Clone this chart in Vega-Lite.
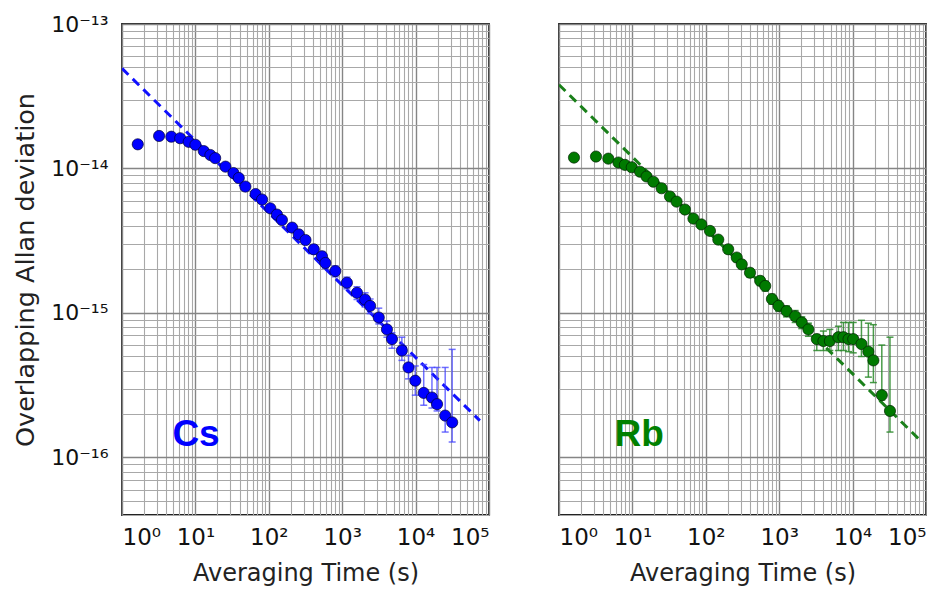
{
  "$schema": "https://vega.github.io/schema/vega-lite/v6.json",
  "background": "white",
  "padding": {"left": 12, "top": 12, "right": 0, "bottom": 0},
  "bounds": "flush",
  "spacing": 70,
  "config": {
    "view": {"stroke": "#222222", "strokeWidth": 1.8},
    "axis": {
      "domain": false,
      "ticks": false,
      "labelFont": "DejaVu Sans",
      "labelFontSize": 22,
      "labelColor": "#111111",
      "titleFont": "DejaVu Sans",
      "titleFontSize": 24,
      "titleFontWeight": "normal",
      "titleColor": "#222222",
      "labelOverlap": false,
      "gridWidth": {"condition": {"test": "abs(log(datum.value)/LN10 - round(log(datum.value)/LN10)) < 0.001", "value": 1.4}, "value": 1.1},
      "gridColor": {"condition": {"test": "abs(log(datum.value)/LN10 - round(log(datum.value)/LN10)) < 0.001", "value": "#858585"}, "value": "#a8a8a8"}
    }
  },
  "datasets": {
    "cs": [
      {"tau": 1.64, "adev": 1.47e-14, "lo": 1.44e-14, "hi": 1.50e-14},
      {"tau": 3.2, "adev": 1.68e-14, "lo": 1.65e-14, "hi": 1.71e-14},
      {"tau": 4.7, "adev": 1.66e-14, "lo": 1.63e-14, "hi": 1.69e-14},
      {"tau": 6.2, "adev": 1.62e-14, "lo": 1.59e-14, "hi": 1.65e-14},
      {"tau": 8.1, "adev": 1.53e-14, "lo": 1.50e-14, "hi": 1.56e-14},
      {"tau": 10, "adev": 1.46e-14, "lo": 1.43e-14, "hi": 1.49e-14},
      {"tau": 13, "adev": 1.32e-14, "lo": 1.29e-14, "hi": 1.35e-14},
      {"tau": 16, "adev": 1.24e-14, "lo": 1.21e-14, "hi": 1.27e-14},
      {"tau": 18.6, "adev": 1.18e-14, "lo": 1.15e-14, "hi": 1.21e-14},
      {"tau": 25.7, "adev": 1.03e-14, "lo": 1.0e-14, "hi": 1.06e-14},
      {"tau": 33, "adev": 9.3e-15, "lo": 9.0e-15, "hi": 9.6e-15},
      {"tau": 39, "adev": 8.6e-15, "lo": 8.3e-15, "hi": 8.9e-15},
      {"tau": 48, "adev": 7.5e-15, "lo": 7.2e-15, "hi": 7.8e-15},
      {"tau": 66, "adev": 6.66e-15, "lo": 6.4e-15, "hi": 6.9e-15},
      {"tau": 81, "adev": 6.1e-15, "lo": 5.85e-15, "hi": 6.35e-15},
      {"tau": 105, "adev": 5.3e-15, "lo": 5.05e-15, "hi": 5.55e-15},
      {"tau": 129, "adev": 4.8e-15, "lo": 4.55e-15, "hi": 5.05e-15},
      {"tau": 151, "adev": 4.4e-15, "lo": 4.15e-15, "hi": 4.65e-15},
      {"tau": 208, "adev": 3.9e-15, "lo": 3.65e-15, "hi": 4.15e-15},
      {"tau": 256, "adev": 3.5e-15, "lo": 3.28e-15, "hi": 3.72e-15},
      {"tau": 316, "adev": 3.2e-15, "lo": 2.98e-15, "hi": 3.42e-15},
      {"tau": 410, "adev": 2.76e-15, "lo": 2.56e-15, "hi": 2.96e-15},
      {"tau": 530, "adev": 2.47e-15, "lo": 2.28e-15, "hi": 2.66e-15},
      {"tau": 590, "adev": 2.22e-15, "lo": 2.04e-15, "hi": 2.4e-15},
      {"tau": 805, "adev": 1.95e-15, "lo": 1.78e-15, "hi": 2.12e-15},
      {"tau": 1160, "adev": 1.62e-15, "lo": 1.47e-15, "hi": 1.77e-15},
      {"tau": 1590, "adev": 1.38e-15, "lo": 1.24e-15, "hi": 1.52e-15},
      {"tau": 2050, "adev": 1.24e-15, "lo": 1.1e-15, "hi": 1.38e-15},
      {"tau": 2400, "adev": 1.12e-15, "lo": 9.9e-16, "hi": 1.25e-15},
      {"tau": 3150, "adev": 9.3e-16, "lo": 8.4e-16, "hi": 1.08e-15},
      {"tau": 4070, "adev": 7.7e-16, "lo": 6.8e-16, "hi": 8.8e-16},
      {"tau": 4770, "adev": 6.6e-16, "lo": 5.7e-16, "hi": 7.3e-16},
      {"tau": 6500, "adev": 5.5e-16, "lo": 4.7e-16, "hi": 6.8e-16},
      {"tau": 8000, "adev": 4.2e-16, "lo": 3.5e-16, "hi": 5.1e-16},
      {"tau": 9900, "adev": 3.4e-16, "lo": 2.7e-16, "hi": 4.3e-16},
      {"tau": 12900, "adev": 2.8e-16, "lo": 2.3e-16, "hi": 4.4e-16},
      {"tau": 16700, "adev": 2.6e-16, "lo": 2.2e-16, "hi": 4.2e-16},
      {"tau": 19600, "adev": 2.34e-16, "lo": 2.1e-16, "hi": 4.2e-16},
      {"tau": 25300, "adev": 1.95e-16, "lo": 1.5e-16, "hi": 4.2e-16},
      {"tau": 31500, "adev": 1.75e-16, "lo": 1.28e-16, "hi": 5.6e-16}
    ],
    "rb": [
      {"tau": 1.6, "adev": 1.19e-14, "lo": 1.16e-14, "hi": 1.22e-14},
      {"tau": 3.19, "adev": 1.21e-14, "lo": 1.18e-14, "hi": 1.24e-14},
      {"tau": 4.7, "adev": 1.17e-14, "lo": 1.14e-14, "hi": 1.2e-14},
      {"tau": 6.45, "adev": 1.1e-14, "lo": 1.07e-14, "hi": 1.13e-14},
      {"tau": 7.9, "adev": 1.06e-14, "lo": 1.03e-14, "hi": 1.09e-14},
      {"tau": 9.8, "adev": 1.02e-14, "lo": 9.9e-15, "hi": 1.05e-14},
      {"tau": 12.7, "adev": 9.5e-15, "lo": 9.2e-15, "hi": 9.8e-15},
      {"tau": 15.6, "adev": 8.8e-15, "lo": 8.5e-15, "hi": 9.1e-15},
      {"tau": 19.3, "adev": 8.1e-15, "lo": 7.8e-15, "hi": 8.4e-15},
      {"tau": 25, "adev": 7.3e-15, "lo": 7.0e-15, "hi": 7.6e-15},
      {"tau": 32.5, "adev": 6.4e-15, "lo": 6.15e-15, "hi": 6.65e-15},
      {"tau": 40, "adev": 5.9e-15, "lo": 5.65e-15, "hi": 6.15e-15},
      {"tau": 52, "adev": 5.2e-15, "lo": 4.98e-15, "hi": 5.42e-15},
      {"tau": 67.8, "adev": 4.5e-15, "lo": 4.3e-15, "hi": 4.7e-15},
      {"tau": 87, "adev": 4.1e-15, "lo": 3.9e-15, "hi": 4.3e-15},
      {"tau": 114, "adev": 3.7e-15, "lo": 3.52e-15, "hi": 3.88e-15},
      {"tau": 148, "adev": 3.22e-15, "lo": 3.05e-15, "hi": 3.39e-15},
      {"tau": 202, "adev": 2.76e-15, "lo": 2.6e-15, "hi": 2.92e-15},
      {"tau": 264, "adev": 2.42e-15, "lo": 2.27e-15, "hi": 2.57e-15},
      {"tau": 309, "adev": 2.17e-15, "lo": 2.03e-15, "hi": 2.31e-15},
      {"tau": 400, "adev": 1.9e-15, "lo": 1.77e-15, "hi": 2.03e-15},
      {"tau": 550, "adev": 1.67e-15, "lo": 1.55e-15, "hi": 1.79e-15},
      {"tau": 645, "adev": 1.54e-15, "lo": 1.42e-15, "hi": 1.66e-15},
      {"tau": 795, "adev": 1.25e-15, "lo": 1.15e-15, "hi": 1.35e-15},
      {"tau": 980, "adev": 1.12e-15, "lo": 1.03e-15, "hi": 1.21e-15},
      {"tau": 1260, "adev": 1.03e-15, "lo": 9.4e-16, "hi": 1.12e-15},
      {"tau": 1650, "adev": 9.5e-16, "lo": 8.6e-16, "hi": 1.04e-15},
      {"tau": 2030, "adev": 8.6e-16, "lo": 7.8e-16, "hi": 9.4e-16},
      {"tau": 2500, "adev": 7.7e-16, "lo": 6.9e-16, "hi": 8.5e-16},
      {"tau": 3250, "adev": 6.6e-16, "lo": 5.5e-16, "hi": 7.1e-16},
      {"tau": 4000, "adev": 6.4e-16, "lo": 5.5e-16, "hi": 7.5e-16},
      {"tau": 4900, "adev": 6.4e-16, "lo": 5.5e-16, "hi": 7.7e-16},
      {"tau": 6400, "adev": 6.8e-16, "lo": 5.5e-16, "hi": 8.1e-16},
      {"tau": 7500, "adev": 6.8e-16, "lo": 5.5e-16, "hi": 8.6e-16},
      {"tau": 8800, "adev": 6.6e-16, "lo": 5.4e-16, "hi": 8.6e-16},
      {"tau": 10200, "adev": 6.6e-16, "lo": 5.3e-16, "hi": 8.6e-16},
      {"tau": 13200, "adev": 6.1e-16, "lo": 5.0e-16, "hi": 8.9e-16},
      {"tau": 16400, "adev": 5.4e-16, "lo": 3.6e-16, "hi": 8.5e-16},
      {"tau": 19200, "adev": 4.7e-16, "lo": 3.3e-16, "hi": 8.3e-16},
      {"tau": 25000, "adev": 2.7e-16, "lo": 2.5e-16, "hi": 6.0e-16},
      {"tau": 32300, "adev": 2.1e-16, "lo": 1.5e-16, "hi": 6.8e-16}
    ],
    "csfit": [
      {"tau": 1, "adev": 4.93e-14},
      {"tau": 75000, "adev": 1.8e-16}
    ],
    "rbfit": [
      {"tau": 1, "adev": 3.8e-14},
      {"tau": 79000, "adev": 1.35e-16}
    ],
    "cslabel": [{"tau": 10.2, "adev": 1.44e-16, "name": "Cs"}],
    "rblabel": [{"tau": 12.4, "adev": 1.44e-16, "name": "Rb"}]
  },
  "hconcat": [
    {
      "width": 367,
      "height": 491,
      "encoding": {
        "x": {
          "field": "tau", "type": "quantitative",
          "scale": {"type": "log", "domain": [1, 100000], "nice": false},
          "axis": {
            "title": "Averaging Time (s)",
            "values": [1,2,3,4,5,6,7,8,9,10,20,30,40,50,60,70,80,90,100,200,300,400,500,600,700,800,900,1000,2000,3000,4000,5000,6000,7000,8000,9000,10000,20000,30000,40000,50000,60000,70000,80000,90000,100000],
            "labelExpr": "abs(log(datum.value)/LN10 - round(log(datum.value)/LN10)) < 0.001 ? '10' + ['⁰','¹','²','³','⁴','⁵'][round(log(datum.value)/LN10)] : ''",
            "labelFontSize": 23,
            "labelPadding": 11,
            "titlePadding": 12
          }
        },
        "y": {
          "field": "adev", "type": "quantitative",
          "scale": {"type": "log", "domain": [4e-17, 1e-13], "nice": false},
          "axis": {
            "title": "Overlapping Allan deviation",
            "titleFontSize": 25.5,
            "values": [4e-17,5e-17,6e-17,7e-17,8e-17,9e-17,1e-16,2e-16,3e-16,4e-16,5e-16,6e-16,7e-16,8e-16,9e-16,1e-15,2e-15,3e-15,4e-15,5e-15,6e-15,7e-15,8e-15,9e-15,1e-14,2e-14,3e-14,4e-14,5e-14,6e-14,7e-14,8e-14,9e-14,1e-13],
            "labelExpr": "abs(log(datum.value)/LN10 - round(log(datum.value)/LN10)) < 0.001 ? '10⁻' + ['¹³','¹⁴','¹⁵','¹⁶'][-round(log(datum.value)/LN10) - 13] : ''",
            "labelPadding": 14,
            "titlePadding": 12
          }
        }
      },
      "layer": [
        {
          "data": {"name": "csfit"},
          "mark": {"type": "line", "color": "#1010ff", "strokeWidth": 3, "strokeDash": [9, 6], "clip": true}
        },
        {
          "data": {"name": "cs"},
          "mark": {"type": "errorbar", "ticks": {"size": 7}, "color": "#4040ff", "opacity": 0.75, "thickness": 1.5},
          "encoding": {
            "y": {"field": "lo", "type": "quantitative"},
            "y2": {"field": "hi"}
          }
        },
        {
          "data": {"name": "cs"},
          "mark": {"type": "point", "shape": "circle", "filled": true, "size": 125, "color": "#0000ff", "stroke": "#000033", "strokeWidth": 0.7, "opacity": 1}
        },
        {
          "data": {"name": "cslabel"},
          "mark": {"type": "text", "font": "Liberation Sans", "fontWeight": "bold", "fontSize": 37, "color": "#0000ff", "align": "center", "baseline": "middle"},
          "encoding": {"text": {"field": "name"}}
        }
      ]
    },
    {
      "width": 367,
      "height": 491,
      "encoding": {
        "x": {
          "field": "tau", "type": "quantitative",
          "scale": {"type": "log", "domain": [1, 100000], "nice": false},
          "axis": {
            "title": "Averaging Time (s)",
            "values": [1,2,3,4,5,6,7,8,9,10,20,30,40,50,60,70,80,90,100,200,300,400,500,600,700,800,900,1000,2000,3000,4000,5000,6000,7000,8000,9000,10000,20000,30000,40000,50000,60000,70000,80000,90000,100000],
            "labelExpr": "abs(log(datum.value)/LN10 - round(log(datum.value)/LN10)) < 0.001 ? '10' + ['⁰','¹','²','³','⁴','⁵'][round(log(datum.value)/LN10)] : ''",
            "labelFontSize": 23,
            "labelPadding": 11,
            "titlePadding": 12
          }
        },
        "y": {
          "field": "adev", "type": "quantitative",
          "scale": {"type": "log", "domain": [4e-17, 1e-13], "nice": false},
          "axis": {
            "title": null,
            "labels": false,
            "values": [4e-17,5e-17,6e-17,7e-17,8e-17,9e-17,1e-16,2e-16,3e-16,4e-16,5e-16,6e-16,7e-16,8e-16,9e-16,1e-15,2e-15,3e-15,4e-15,5e-15,6e-15,7e-15,8e-15,9e-15,1e-14,2e-14,3e-14,4e-14,5e-14,6e-14,7e-14,8e-14,9e-14,1e-13]
          }
        }
      },
      "layer": [
        {
          "data": {"name": "rbfit"},
          "mark": {"type": "line", "color": "#1a801a", "strokeWidth": 3, "strokeDash": [9, 6], "clip": true}
        },
        {
          "data": {"name": "rb"},
          "mark": {"type": "errorbar", "ticks": {"size": 7}, "color": "#2a8a2a", "opacity": 0.85, "thickness": 1.5},
          "encoding": {
            "y": {"field": "lo", "type": "quantitative"},
            "y2": {"field": "hi"}
          }
        },
        {
          "data": {"name": "rb"},
          "mark": {"type": "point", "shape": "circle", "filled": true, "size": 125, "color": "#007a00", "stroke": "#002200", "strokeWidth": 0.7, "opacity": 1}
        },
        {
          "data": {"name": "rblabel"},
          "mark": {"type": "text", "font": "Liberation Sans", "fontWeight": "bold", "fontSize": 37, "color": "#008000", "align": "center", "baseline": "middle"},
          "encoding": {"text": {"field": "name"}}
        }
      ]
    }
  ]
}
